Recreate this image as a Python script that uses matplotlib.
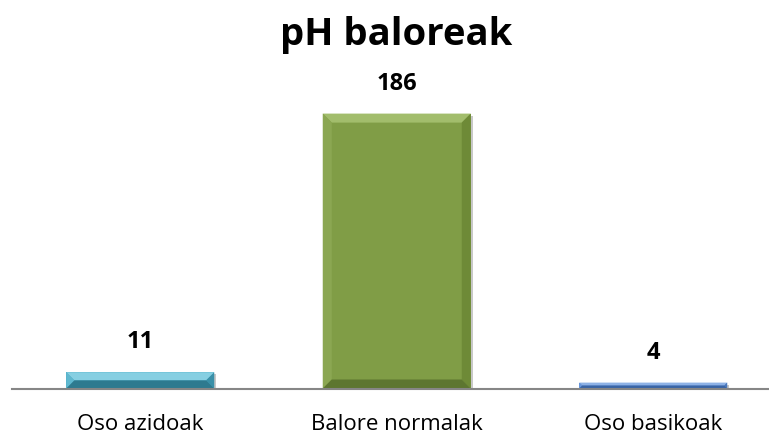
import numpy as np
import matplotlib.pyplot as plt
from matplotlib.patches import Polygon
from matplotlib.transforms import IdentityTransform

categories = ['Oso azidoak', 'Balore normalak', 'Oso basikoak']
values = [11, 186, 4]
title = 'pH baloreak'

face = ['#4aaac4', '#809d46', '#5a8ad2']
top_c = ['#86cfe2', '#a2bd6c', '#8eb2e6']
side_l = ['#5fb8cf', '#8ba752', '#6a98dc']
side_r = ['#3a90a8', '#6e8a37', '#4a78bc']
bot_c = ['#2e7a8f', '#5d7630', '#3a65a6']

plt.rcParams['font.family'] = ['Open Sans', 'DejaVu Sans']

W, H = 769, 433
fig = plt.figure(figsize=(W / 100, H / 100), dpi=100)
ax = fig.add_axes([12 / W, (H - 388.5) / H, 769.5 / W, 295.6 / H])

x = np.arange(len(categories))
bars = ax.bar(x, values, width=0.577, color=face, edgecolor='none', zorder=2)
ax.set_xlim(-0.5, 2.5)
ax.set_ylim(0, 200)

# bevel look: light top, dark bottom/right
fig.canvas.draw()
idt = IdentityTransform()
for i, b in enumerate(bars):
    (x0, y0), (x1, y1) = ax.transData.transform([(b.get_x(), 0), (b.get_x() + b.get_width(), b.get_height())])
    bv = min(9, (y1 - y0) / 2.0)
    ix0, ix1, iy0, iy1 = x0 + bv, x1 - bv, y0 + bv, y1 - bv
    polys = [
        ([(x0, y1), (x1, y1), (ix1, iy1), (ix0, iy1)], top_c[i]),
        ([(x0, y0), (x0, y1), (ix0, iy1), (ix0, iy0)], side_l[i]),
        ([(x1, y0), (x1, y1), (ix1, iy1), (ix1, iy0)], side_r[i]),
        ([(x0, y0), (x1, y0), (ix1, iy0), (ix0, iy0)], bot_c[i]),
    ]
    for pts, c in polys:
        ax.add_artist(Polygon(pts, closed=True, facecolor=c, edgecolor='none',
                              transform=idt, zorder=3, clip_on=False))
    # soft shadow
    ax.add_artist(Polygon([(x0 + 2, y0), (x1 + 2, y0), (x1 + 2, y1 - 2), (x0 + 2, y1 - 2)],
                          closed=True, facecolor='#c8c8c8', edgecolor='none',
                          transform=idt, zorder=1, clip_on=False))

for b, v in zip(bars, values):
    ax.annotate(str(v), (b.get_x() + b.get_width() / 2, v), xytext=(0, 13), textcoords='offset points',
                ha='center', va='bottom', fontsize=17, fontweight='bold', color='black')

for s in ['top', 'right', 'left']:
    ax.spines[s].set_visible(False)
ax.spines['bottom'].set_color('#868686')
ax.spines['bottom'].set_linewidth(1.5)
ax.spines['bottom'].set_zorder(4)
ax.set_yticks([])
ax.set_xticks(x)
ax.set_xticklabels(categories, fontsize=16)
ax.tick_params(axis='x', length=0, pad=18)

fig.text(396 / W, 1 - 45 / H, title, ha='center', va='baseline', fontsize=27.5, fontweight='bold')

fig.savefig('out.png', dpi=100)
